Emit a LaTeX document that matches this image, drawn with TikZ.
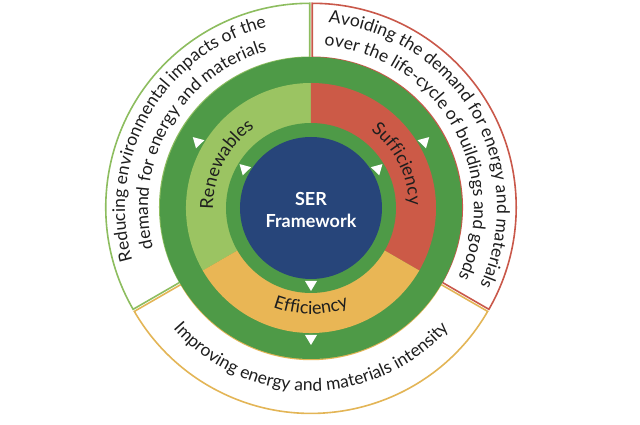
\documentclass[tikz,border=0pt]{standalone}
\usepackage{fontspec}
\setmainfont{Lato}
\usetikzlibrary{decorations.text,calc}
\definecolor{dgreen}{HTML}{4E9A47}
\definecolor{lgreen}{HTML}{9BC462}
\definecolor{redc}{HTML}{CC5A47}
\definecolor{yelc}{HTML}{E9B655}
\definecolor{bluec}{HTML}{27457A}
\definecolor{txt}{HTML}{1E1E1E}
\definecolor{greenb}{HTML}{8DBD5F}
\definecolor{redb}{HTML}{C9584A}
\definecolor{yelb}{HTML}{E3B556}
\newcommand{\annsec}[5]{% color, a1, a2, r1, r2
  \fill[#1] (#2:#4) arc[start angle=#2, end angle=#3, radius=#4] -- (#3:#5) arc[start angle=#3, end angle=#2, radius=#5] -- cycle;}
\newcommand{\arrowtri}[3]{% angle, radius, direction
  \fill[white] ($(#1:#2)+(#3:6pt)$) -- ($(#1:#2)+(#3+180:4pt)+(#3+90:6pt)$) -- ($(#1:#2)+(#3+180:4pt)+(#3-90:6pt)$) -- cycle;}
\tikzset{
  outersec/.style={fill=white, line width=1.6pt, line join=miter},
  outertext/.style={decorate, decoration={text along path, text align=center,
     text={|\fontsize{17.5}{17.5}\selectfont\color{txt}|#1}}},
  midtext/.style={decorate, decoration={text along path, text align=center,
     text={|\fontsize{18}{18}\selectfont\color{txt}|#1}}},
}
\begin{document}
\begin{tikzpicture}
\useasboundingbox (-311pt,-217pt) rectangle (329pt,208pt);
% outer white sectors
\begin{scope}[shift={(150:1.4pt)}]
  \draw[outersec, draw=greenb] (90:150pt) arc[start angle=90, end angle=210, radius=150pt] -- (210:204pt) arc[start angle=210, end angle=90, radius=204pt] -- cycle;
\end{scope}
\begin{scope}[shift={(30:1.4pt)}]
  \draw[outersec, draw=redb] (-30:150pt) arc[start angle=-30, end angle=90, radius=150pt] -- (90:204pt) arc[start angle=90, end angle=-30, radius=204pt] -- cycle;
\end{scope}
\begin{scope}[shift={(270:1.4pt)}]
  \draw[outersec, draw=yelb] (210:150pt) arc[start angle=210, end angle=330, radius=150pt] -- (330:204pt) arc[start angle=330, end angle=210, radius=204pt] -- cycle;
\end{scope}
% green outer ring
\fill[dgreen] (0,0) circle[radius=151pt];
% colored middle sectors
\annsec{lgreen}{90}{210}{84pt}{125pt}
\annsec{redc}{-30}{90}{84pt}{125pt}
\annsec{yelc}{210}{330}{84pt}{125pt}
% inner green ring and blue circle
\fill[dgreen] (0,0) circle[radius=85pt];
\fill[bluec] (0,0) circle[radius=71pt];
% arrow triangles
\arrowtri{150}{131pt}{255}
\arrowtri{30}{131pt}{285}
\arrowtri{270}{131pt}{270}
\arrowtri{150}{77pt}{255}
\arrowtri{30}{77pt}{285}
\arrowtri{270}{77pt}{270}
% center label
\node[font=\bfseries\fontsize{18}{22}\selectfont, text=white, align=center] (ser) at (0,-2pt) {SER\\Framework};
% middle labels
\path[midtext={Renewables}] (215:98pt) arc[start angle=215, end angle=91, radius=98pt];
\path[midtext={Sufficiency}] (89:98pt) arc[start angle=89, end angle=-35, radius=98pt];
\path[midtext={Efficiency}] (200:106pt) arc[start angle=200, end angle=340, radius=106pt];
% outer labels
\path[outertext={Reducing environmental impacts of the}] (220:186pt) arc[start angle=220, end angle=80, radius=186pt];
\path[outertext={demand for energy and materials}] (220:163pt) arc[start angle=220, end angle=80, radius=163pt];
\path[outertext={Avoiding the demand for energy and materials}] (100:186pt) arc[start angle=100, end angle=-40, radius=186pt];
\path[outertext={over the life-cycle of buildings and goods}] (100:163pt) arc[start angle=100, end angle=-40, radius=163pt];
\path[outertext={Improving energy and materials intensity}] (200:183pt) arc[start angle=200, end angle=340, radius=183pt];
\end{tikzpicture}
\end{document}
